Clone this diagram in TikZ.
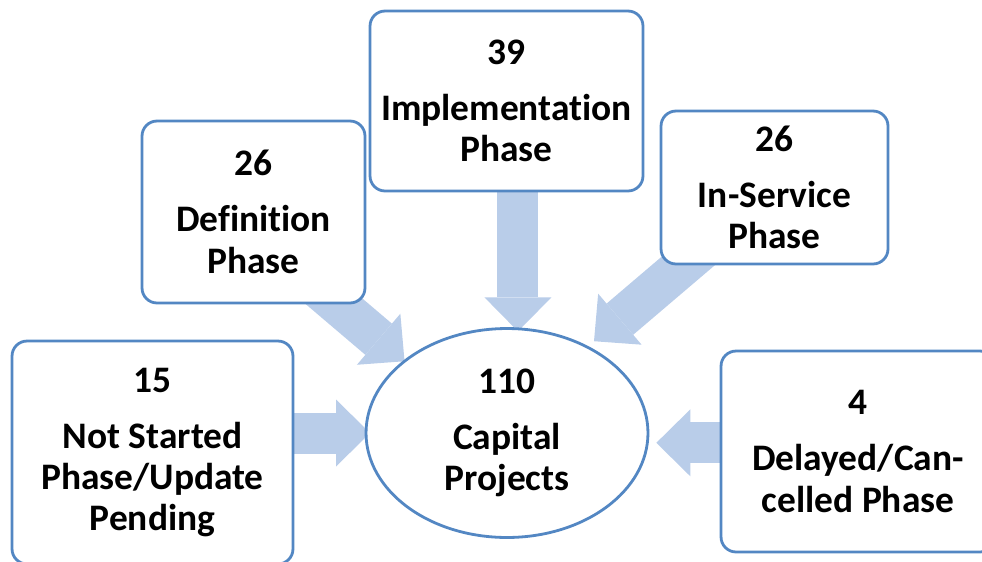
\documentclass[tikz,border=0pt]{standalone}
\usepackage{fontspec}
\setmainfont{Carlito}[Ligatures=NoCommon]
\usetikzlibrary{arrows.meta,shapes.geometric,backgrounds}
\definecolor{boxblue}{HTML}{5387C3}
\definecolor{arrowblue}{HTML}{B9CDE9}
\tikzset{main base/.style={draw=boxblue,line width=0.056cm,fill=white,align=center,
    inner sep=0pt,outer sep=0pt,font=\bfseries\fontsize{21.3}{23.6}\selectfont}, }
\tikzset{main node/.style={rectangle,rounded corners=0.3cm,main base}, }
\tikzset{main hub/.style={ellipse,main base}, }
\tikzset{linea/.style={draw=arrowblue,line width=0.82cm,
    -{Triangle[length=0.68cm,width=1.34cm,line width=0pt]}}}
\newcommand{\numgap}{\\[0.29cm]}

\begin{document}
\begin{tikzpicture}[x=0.02cm,y=-0.02cm]
\path[use as bounding box] (0,0) rectangle (982,561);
%
\node[main hub,minimum width=5.64cm,minimum height=4.18cm] (hub) at (507,433) {110\numgap Capital\\Projects};
\node[main node,minimum width=5.46cm,minimum height=3.6cm] (impl) at (506.5,101) {39\numgap Implementation\\Phase};
\node[main node,minimum width=4.46cm,minimum height=3.64cm] (def) at (253.5,212) {26\numgap Definition\\Phase};
\node[main node,minimum width=4.54cm,minimum height=3.06cm] (insvc) at (774.5,187.5) {26\numgap In-Service\\Phase};
\node[main node,minimum width=5.62cm,minimum height=4.46cm] (notst) at (152.5,452.5) {15\numgap Not Started\\Phase/Update\\Pending};
\node[main node,minimum width=5.48cm,minimum height=4.02cm] (delay) at (858,451.5) {4\numgap Delayed/Can-\\celled Phase};
%
% tails sit under the boxes
\coordinate (t1) at (impl.center -| hub.84);
\coordinate (t2) at ([xshift=-0.49cm]def.center);
\coordinate (t3) at (insvc.center);
\coordinate (t4) at (notst.center |- hub.west);
\coordinate (t5) at (delay.center |- hub.-4);
%
\begin{scope}[on background layer]
\foreach \x/\y/\s in {t1/hub.84/-0.05cm,t2/hub.145/0pt,t3/hub.47/0.18cm,t4/hub.west/-0.08cm,t5/hub.-4/0.18cm}
  \path[linea,shorten >=\s] (\x) -- (\y);
\end{scope}
\end{tikzpicture}
\end{document}
